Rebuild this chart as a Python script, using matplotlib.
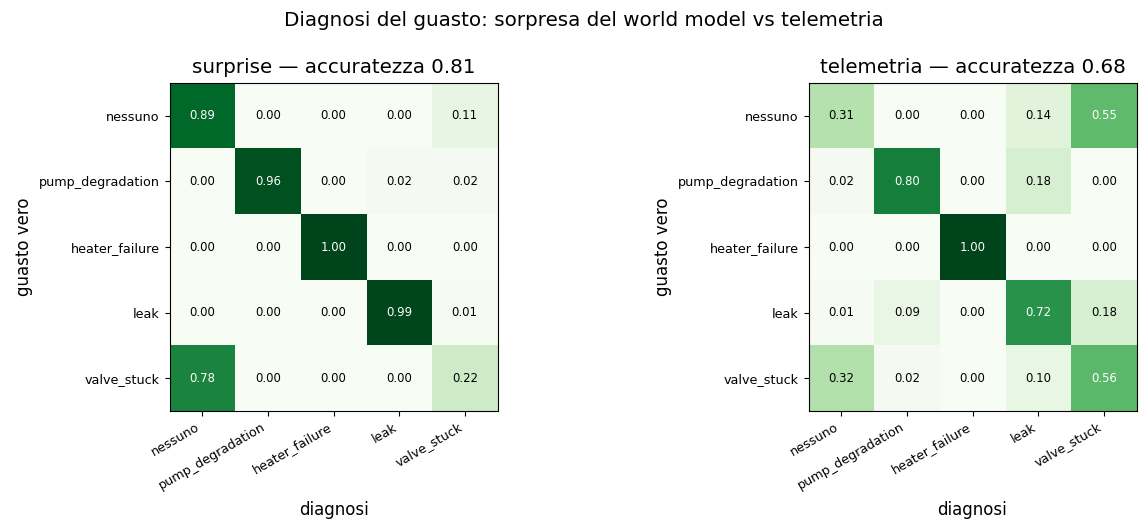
import numpy as np
import matplotlib
matplotlib.use("Agg")
import matplotlib.pyplot as plt

classi = ["nessuno", "pump_degradation", "heater_failure", "leak", "valve_stuck"]

cm_surprise = np.array([
    [0.89, 0.00, 0.00, 0.00, 0.11],
    [0.00, 0.96, 0.00, 0.02, 0.02],
    [0.00, 0.00, 1.00, 0.00, 0.00],
    [0.00, 0.00, 0.00, 0.99, 0.01],
    [0.78, 0.00, 0.00, 0.00, 0.22],
])
acc_surprise = 0.81

cm_telemetria = np.array([
    [0.31, 0.00, 0.00, 0.14, 0.55],
    [0.02, 0.80, 0.00, 0.18, 0.00],
    [0.00, 0.00, 1.00, 0.00, 0.00],
    [0.01, 0.09, 0.00, 0.72, 0.18],
    [0.32, 0.02, 0.00, 0.10, 0.56],
])
acc_telemetria = 0.68

W, H = 1148, 532


def draw_cm(ax, cm, nome, acc):
    ax.imshow(cm, cmap="Greens", vmin=0, vmax=1)
    n = len(classi)
    ax.set_xticks(range(n))
    ax.set_yticks(range(n))
    ax.set_xticklabels(classi, rotation=30, ha="right", fontsize=9.2)
    ax.set_yticklabels(classi, fontsize=9.2)
    for i in range(n):
        for j in range(n):
            v = cm[i, j]
            ax.text(j, i, f"{v:.2f}", ha="center", va="center", fontsize=8.4,
                    color="white" if v > 0.5 else "black")
    ax.set_xlabel("diagnosi", fontsize=12, labelpad=6)
    ax.set_ylabel("guasto vero", fontsize=12)
    ax.set_title(f"{nome} — accuratezza {acc:.2f}", fontsize=14.3, pad=7)


fig, axes = plt.subplots(1, 2, figsize=(W / 100, H / 100), dpi=100)
draw_cm(axes[0], cm_surprise, "surprise", acc_surprise)
draw_cm(axes[1], cm_telemetria, "telemetria", acc_telemetria)
axes[0].set_position([169 / W, 1 - 411 / H, 329 / W, 328 / H])
axes[1].set_position([808 / W, 1 - 411 / H, 329 / W, 328 / H])
fig.suptitle("Diagnosi del guasto: sorpresa del world model vs telemetria",
             fontsize=14.3, x=584 / W, y=0.979)
fig.savefig("out.png", dpi=100)
